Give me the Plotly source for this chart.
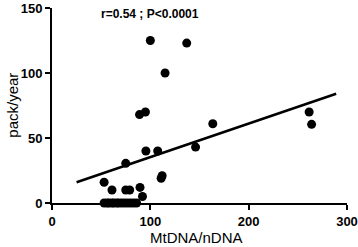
import plotly.graph_objects as go

# data
mtdna = [53, 56, 58, 61, 63, 66, 68, 71, 74, 77, 80, 83, 86,
         53, 61, 75, 79, 89.5, 92, 75, 95.5, 107.5, 111, 112,
         89, 95, 115, 100, 137, 146, 163.5, 261.5, 264]
packyear = [0, 0, 0, 0, 0, 0, 0, 0, 0, 0, 0, 0, 0,
            16, 10, 10, 10, 12, 5, 30.5, 40, 40, 19, 21,
            68, 70, 100, 125, 123, 43, 61, 70, 60.5]

fit_x = [25, 289]
slope = 0.2576
intercept = 9.56
fit_y = [slope * v + intercept for v in fit_x]

x_ticks = [0, 100, 200, 300]
y_ticks = [0, 50, 100, 150]

fig = go.Figure()
fig.add_trace(go.Scatter(x=fit_x, y=fit_y, mode="lines",
                         line=dict(color="black", width=2.5), cliponaxis=False,
                         hoverinfo="skip"))
fig.add_trace(go.Scatter(x=mtdna, y=packyear, mode="markers",
                         marker=dict(color="black", size=9), cliponaxis=False))

axis_common = dict(showgrid=False, zeroline=False, showline=True, linecolor="black",
                   linewidth=2, ticks="outside", tickcolor="black", tickwidth=2,
                   ticklen=5, automargin=False,
                   tickfont=dict(family="Liberation Sans, Arial", size=13, color="black",
                                 weight="bold"))

fig.update_xaxes(range=[0, 300], tickvals=x_ticks, ticktext=[str(v) for v in x_ticks],
                 **axis_common)
fig.update_yaxes(range=[0, 150], tickvals=y_ticks, ticktext=[str(v) for v in y_ticks],
                 **axis_common)

title_font = dict(family="Liberation Sans, Arial", size=15, color="black")
fig.add_annotation(text="MtDNA/nDNA", xref="paper", yref="paper", x=0.49, y=-0.178,
                   showarrow=False, xanchor="center", yanchor="middle", font=title_font)
fig.add_annotation(text="pack/year", xref="paper", yref="paper", x=-0.135, y=0.5,
                   textangle=-90, showarrow=False, xanchor="center", yanchor="middle",
                   font=title_font)

fig.add_annotation(text="r=0.54 ; P<0.0001", xref="paper", yref="paper",
                   x=0.332, y=0.97, showarrow=False, xanchor="center", yanchor="middle",
                   font=dict(family="Liberation Sans, Arial", size=12, color="black",
                             weight="bold"))

fig.update_layout(width=358, height=247, margin=dict(l=52, r=11, t=8, b=44),
                  paper_bgcolor="white", plot_bgcolor="white", showlegend=False,
                  hovermode=False)

fig.write_html("out.html", config={"displayModeBar": False},
               post_script="document.body.style.margin='0';")
